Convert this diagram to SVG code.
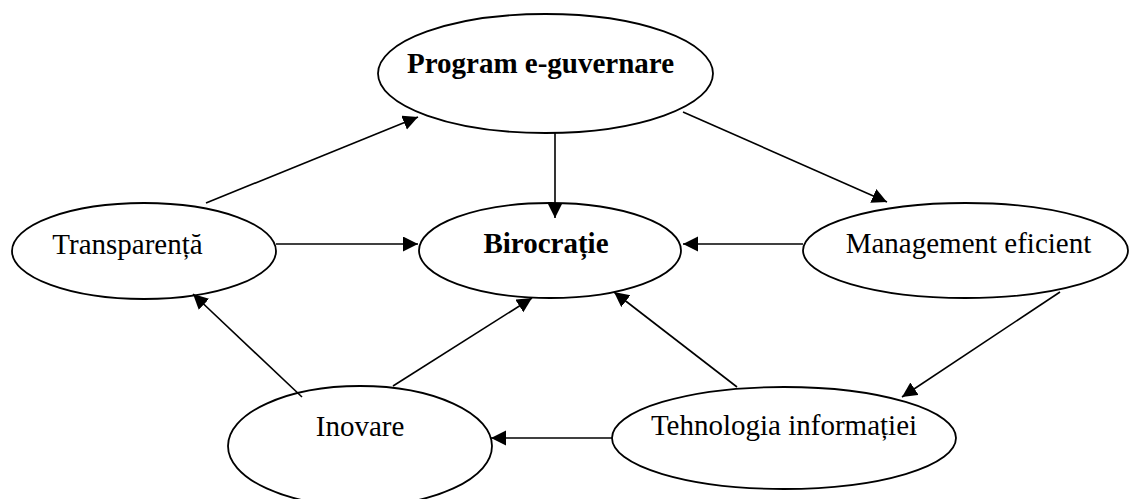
<svg xmlns="http://www.w3.org/2000/svg" width="1130" height="499" viewBox="0 0 1130 499">
  <style>
    .node { fill: #ffffff; stroke: #000000; stroke-width: 1.8; }
    .label { font-family: "Liberation Serif", "Times New Roman", serif; font-size: 29px; fill: #000000; text-anchor: middle; }
    .bold { font-weight: bold; }
    .edge { stroke: #000000; stroke-width: 1.6; fill: none; marker-end: url(#arrow); }
  </style>
  <defs>
    <marker id="arrow" markerUnits="userSpaceOnUse" markerWidth="16" markerHeight="16" refX="15" refY="7.5" orient="auto">
      <path d="M0,0 L15,7.5 L0,15 z" fill="#000000"/>
    </marker>
  </defs>
  <rect width="1130" height="499" fill="#ffffff"/>

  <!-- nodes -->
  <g id="program">
    <ellipse class="node" cx="545.5" cy="73.5" rx="167.5" ry="59.5"/>
    <text class="label bold" x="540.5" y="73">Program e-guvernare</text>
  </g>
  <g id="birocratie">
    <ellipse class="node" cx="550" cy="250.5" rx="131" ry="47.5"/>
    <text class="label bold" x="546" y="253">Birocrație</text>
  </g>
  <g id="transparenta">
    <ellipse class="node" cx="144" cy="251" rx="132" ry="48"/>
    <text class="label" x="127.5" y="254">Transparență</text>
  </g>
  <g id="management">
    <ellipse class="node" cx="965.5" cy="250.5" rx="162.5" ry="47.5"/>
    <text class="label" x="968.5" y="253">Management eficient</text>
  </g>
  <g id="inovare">
    <ellipse class="node" cx="360" cy="446" rx="132" ry="60"/>
    <text class="label" x="360" y="436">Inovare</text>
  </g>
  <g id="tehnologia">
    <ellipse class="node" cx="784" cy="438" rx="172" ry="51"/>
    <text class="label" x="784" y="435">Tehnologia informației</text>
  </g>

  <!-- connectors -->
  <g id="connectors">
    <line class="edge" x1="206" y1="203" x2="418" y2="117"/>
    <line class="edge" x1="555" y1="133" x2="555" y2="218"/>
    <line class="edge" x1="683" y1="112" x2="887" y2="202"/>
    <line class="edge" x1="276" y1="244" x2="418" y2="244"/>
    <line class="edge" x1="803" y1="244" x2="683" y2="244"/>
    <line class="edge" x1="302" y1="397" x2="193" y2="294"/>
    <line class="edge" x1="393" y1="386" x2="532" y2="298"/>
    <line class="edge" x1="737" y1="387" x2="614" y2="292"/>
    <line class="edge" x1="1060" y1="292" x2="902" y2="397"/>
    <line class="edge" x1="612" y1="438" x2="491" y2="438"/>
  </g>
</svg>
